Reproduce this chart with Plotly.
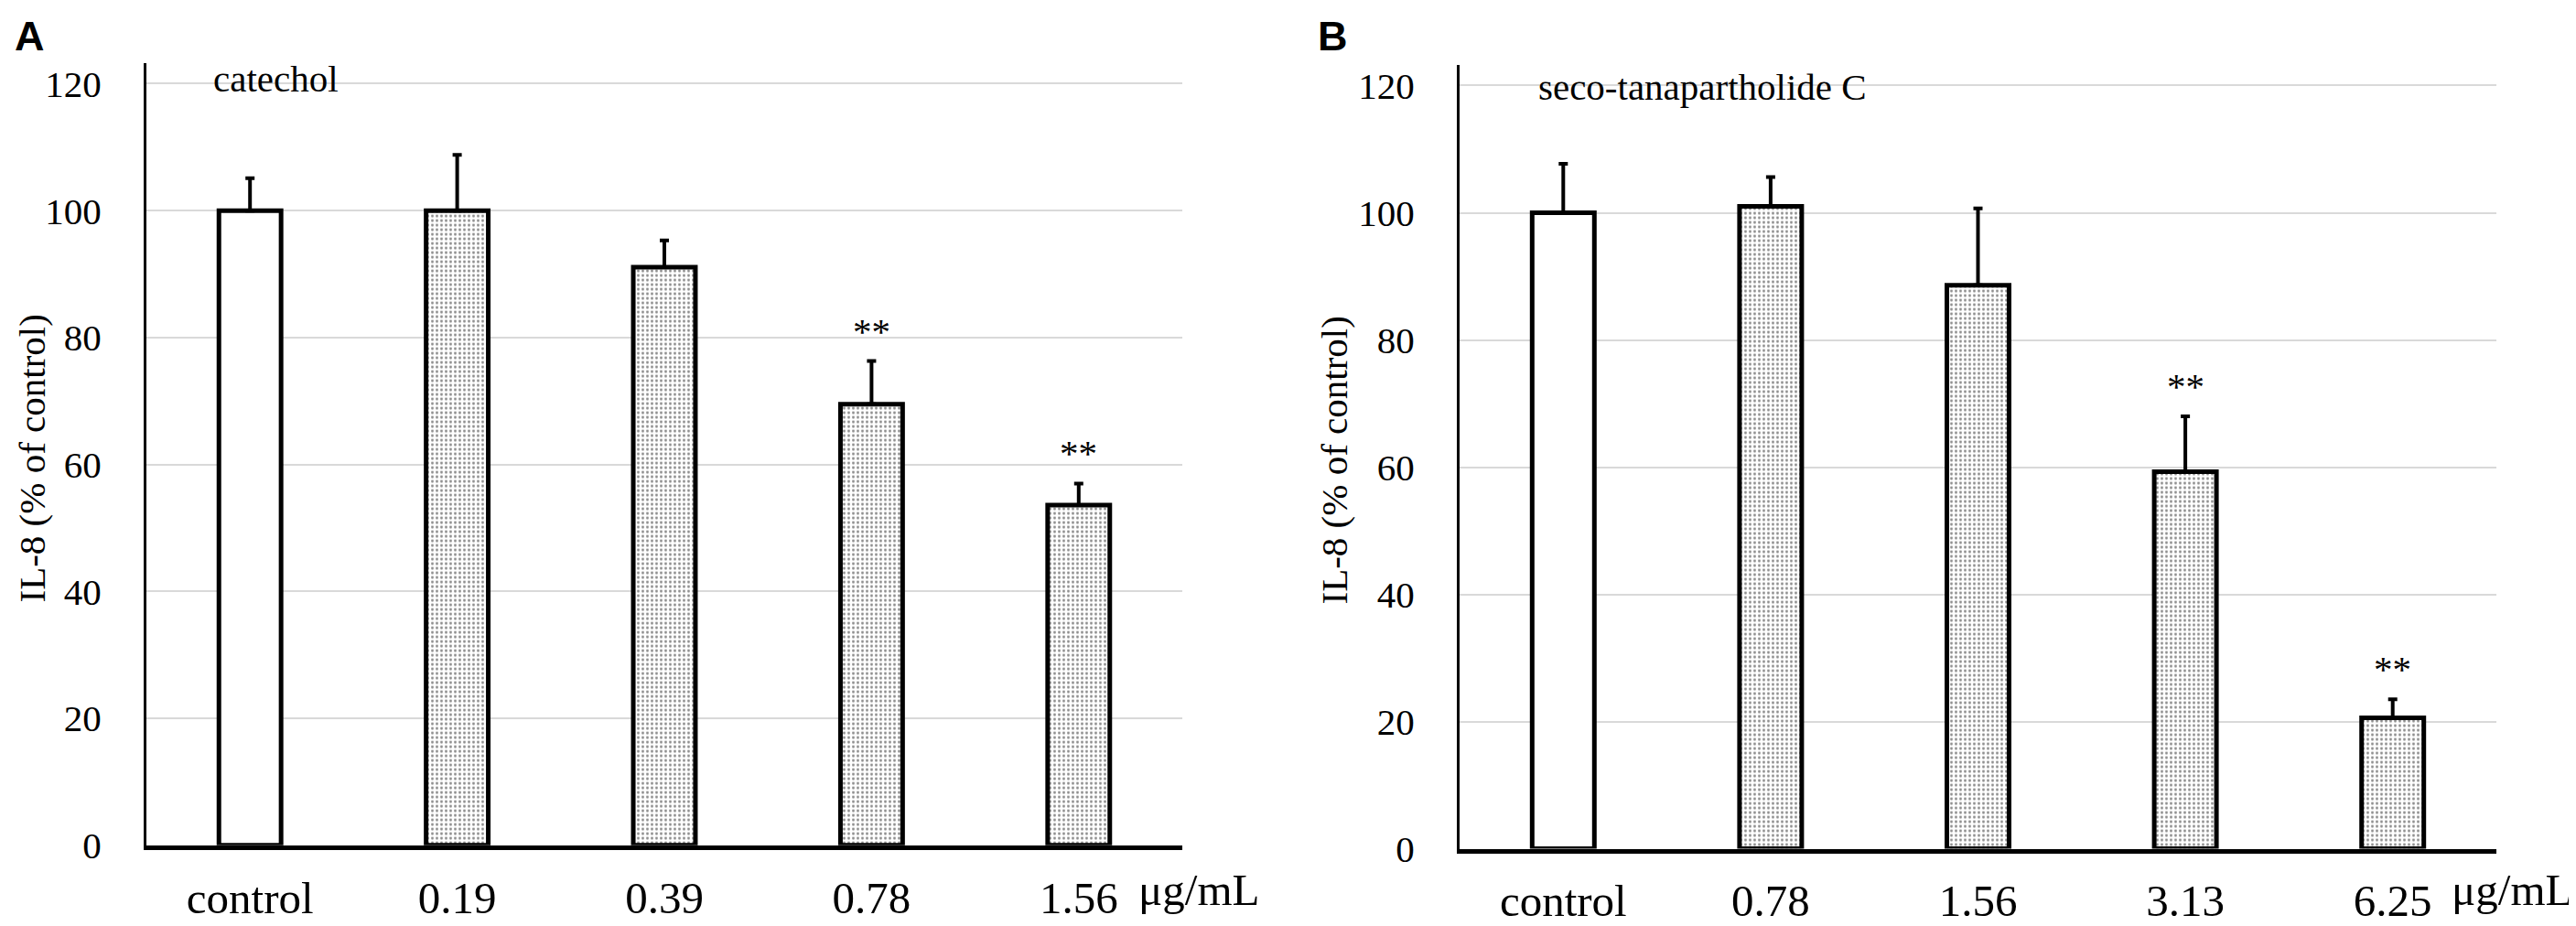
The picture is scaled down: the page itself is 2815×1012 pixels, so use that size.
import plotly.graph_objects as go

# panel A: catechol
doses_a = ["control", "0.19", "0.39", "0.78", "1.56"]
il8_a = [100, 100, 91.1, 69.5, 53.6]
sd_a = [5.1, 8.8, 4.2, 6.8, 3.4]
sig_a = ["", "", "", "**", "**"]

# panel B: seco-tanapartholide C
doses_b = ["control", "0.78", "1.56", "3.13", "6.25"]
il8_b = [100, 101.0, 88.6, 59.3, 20.6]
sd_b = [7.7, 4.6, 12.1, 8.7, 2.9]
sig_b = ["", "", "", "**", "**"]

y_ticks = [0, 20, 40, 60, 80, 100, 120]

W, H = 2815, 1012
SERIF = "Liberation Serif, Times New Roman, serif"


def px_x(p):
    return p / W


def px_y(p):
    return (H - p) / H


def bar_trace(cats, vals, sds, xa, ya):
    shapes = ["" if c == "control" else "." for c in cats]
    return go.Bar(
        x=cats, y=vals, xaxis=xa, yaxis=ya,
        marker=dict(
            color="white",
            line=dict(color="black", width=5),
            pattern=dict(shape=shapes, fgcolor="#1a1a1a", bgcolor="white",
                         size=5, solidity=0.28),
        ),
        error_y=dict(type="data", symmetric=False, array=sds,
                     arrayminus=[0] * len(sds), color="black",
                     thickness=4, width=5),
        showlegend=False,
    )


fig = go.Figure()
fig.add_trace(bar_trace(doses_a, il8_a, sd_a, "x", "y"))
fig.add_trace(bar_trace(doses_b, il8_b, sd_b, "x2", "y2"))

xcommon = dict(
    type="category", range=[-0.5, 4.5], showline=True, linecolor="black",
    linewidth=5, showgrid=False, ticks="", ticklabelstandoff=10,
    tickfont=dict(family=SERIF, size=49, color="black"),
)
ycommon = dict(
    range=[0, 123.3], tickvals=y_ticks, showline=True, linecolor="black",
    linewidth=3, showgrid=True, gridcolor="#d9d9d9", gridwidth=2,
    zeroline=False, ticks="", ticklabelstandoff=38,
    tickfont=dict(family=SERIF, size=41, color="black"),
)

fig.update_layout(
    width=W, height=H,
    margin=dict(l=0, r=0, t=0, b=0),
    paper_bgcolor="white", plot_bgcolor="white",
    bargap=0.7,
    xaxis=dict(xcommon, domain=[px_x(152), px_x(1284)], anchor="y"),
    yaxis=dict(ycommon, domain=[px_y(937), px_y(62)], anchor="x"),
    xaxis2=dict(xcommon, domain=[px_x(1587), px_x(2720)], anchor="y2"),
    yaxis2=dict(ycommon, domain=[px_y(941), px_y(64)], anchor="x2"),
)

ann = []
for xa, ya, vals, sds, sig in [("x", "y", il8_a, sd_a, sig_a),
                               ("x2", "y2", il8_b, sd_b, sig_b)]:
    for i, (v, s, g) in enumerate(zip(vals, sds, sig)):
        if g:
            ann.append(dict(x=i, y=v + s, xref=xa, yref=ya, text=g,
                            showarrow=False, yanchor="bottom", yshift=8,
                            font=dict(family=SERIF, size=41, color="black")))

text_font = dict(family=SERIF, size=41, color="black")
# compound names inside the panels
ann.append(dict(x=px_x(223), y=px_y(80), xref="paper", yref="paper",
                text="catechol", showarrow=False, xanchor="left",
                yanchor="middle", font=text_font))
ann.append(dict(x=px_x(1671), y=px_y(89), xref="paper", yref="paper",
                text="seco-tanapartholide C", showarrow=False, xanchor="left",
                yanchor="middle", font=text_font))
# unit labels
unit_font = dict(family=SERIF, size=49, color="black")
ann.append(dict(x=px_x(1234), y=px_y(987), xref="paper", yref="paper",
                text="μg/mL", showarrow=False, xanchor="left",
                yanchor="middle", font=unit_font))
ann.append(dict(x=px_x(2669), y=px_y(987), xref="paper", yref="paper",
                text="μg/mL", showarrow=False, xanchor="left",
                yanchor="middle", font=unit_font))
# y axis titles
ann.append(dict(x=px_x(27), y=px_y(505), xref="paper", yref="paper",
                text="IL-8 (% of control)", showarrow=False, textangle=-90,
                xanchor="center", yanchor="middle", borderpad=0,
                font=text_font))
ann.append(dict(x=px_x(1450), y=px_y(507), xref="paper", yref="paper",
                text="IL-8 (% of control)", showarrow=False, textangle=-90,
                xanchor="center", yanchor="middle", borderpad=0,
                font=text_font))
# panel letters
panel_font = dict(family="Liberation Sans, Arial, sans-serif", size=45, color="black")
ann.append(dict(x=px_x(6), y=px_y(4), xref="paper", yref="paper",
                text="<b>A</b>", showarrow=False, xanchor="left",
                yanchor="top", font=panel_font))
ann.append(dict(x=px_x(1430), y=px_y(4), xref="paper", yref="paper",
                text="<b>B</b>", showarrow=False, xanchor="left",
                yanchor="top", font=panel_font))

fig.update_layout(annotations=ann)
fig.write_html("out.html")
